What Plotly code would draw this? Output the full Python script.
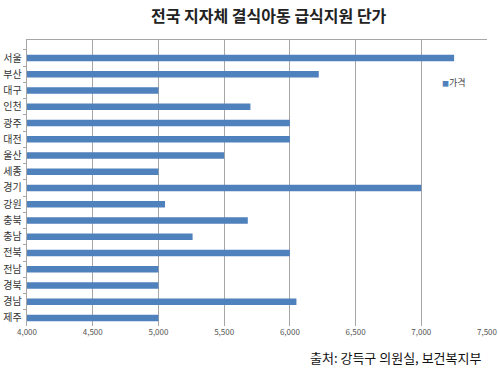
import plotly.graph_objects as go

regions = ["서울", "부산", "대구", "인천", "광주", "대전", "울산", "세종",
           "경기", "강원", "충북", "충남", "전북", "전남", "경북", "경남", "제주"]
prices = [7250, 6220, 5000, 5700, 6000, 6000, 5500, 5000,
          7000, 5050, 5680, 5260, 6000, 5000, 5000, 6050, 5000]
series_name = "가격"
x_ticks = [4000, 4500, 5000, 5500, 6000, 6500, 7000, 7500]
x_tick_text = ["4,000", "4,500", "5,000", "5,500", "6,000", "6,500", "7,000", "7,500"]
title = "전국 지자체 결식아동 급식지원 단가"
source = "출처: 강득구 의원실, 보건복지부"

bar_color = "#4F81BD"
font = "Noto Sans CJK KR"

fig = go.Figure()
fig.add_trace(go.Bar(
    x=prices, y=regions, orientation="h", name=series_name,
    marker=dict(color=bar_color, line=dict(width=0)),
    showlegend=False,
))
# invisible trace for top axis line
fig.add_trace(go.Scatter(x=[4000, 7500], y=[regions[0], regions[0]], xaxis="x2",
                         mode="markers", marker=dict(opacity=0), showlegend=False,
                         hoverinfo="skip"))

fig.update_layout(
    width=500, height=369,
    margin=dict(l=27, r=13, t=40, b=43, autoexpand=False),
    paper_bgcolor="white", plot_bgcolor="white",
    bargap=0.6,
    font=dict(family=font, color="#333333"),
    xaxis=dict(range=[4000, 7500], tickvals=x_ticks, ticktext=x_tick_text,
               showgrid=True, gridcolor="#A6A6A6", gridwidth=1,
               zeroline=False, showline=False, ticks="", automargin=False,
               tickfont=dict(size=8, color="#555555")),
    xaxis2=dict(range=[4000, 7500], overlaying="x", side="top", anchor="y",
                showline=True, linecolor="#A6A6A6", linewidth=1, automargin=False,
                tickvals=x_ticks, ticks="inside", ticklen=3, tickcolor="#A6A6A6",
                showticklabels=False, showgrid=False, zeroline=False),
    yaxis=dict(autorange="reversed", showline=True, linecolor="#A6A6A6", linewidth=1,
               ticks="outside", ticklen=3, tickcolor="#A6A6A6", tickson="boundaries",
               automargin=False,
               showgrid=False, tickfont=dict(size=10, color="#333333"), ticksuffix=" "),
)

fig.add_annotation(text="<b>" + title + "</b>", xref="paper", yref="paper",
                   x=(269 - 27) / 460, y=1, yshift=25, xanchor="center", yanchor="middle",
                   showarrow=False, font=dict(size=16, color="#222222", family=font))
fig.add_annotation(text="<span style='color:%s;font-size:7px'>■</span>%s" % (bar_color, series_name),
                   xref="paper", yref="paper", x=(440 - 27) / 460, y=(326 - 83) / 285.5,
                   xanchor="left", yanchor="middle", showarrow=False,
                   font=dict(size=9, color="#444444", family=font))
fig.add_annotation(text=source, xref="paper", yref="paper",
                   x=(483 - 27) / 460, y=0, yshift=-31, xanchor="right", yanchor="middle",
                   showarrow=False, font=dict(size=13, color="#111111", family=font))

fig.write_html("out.html", config={"displayModeBar": False},
               post_script="document.body.style.margin='0';")
